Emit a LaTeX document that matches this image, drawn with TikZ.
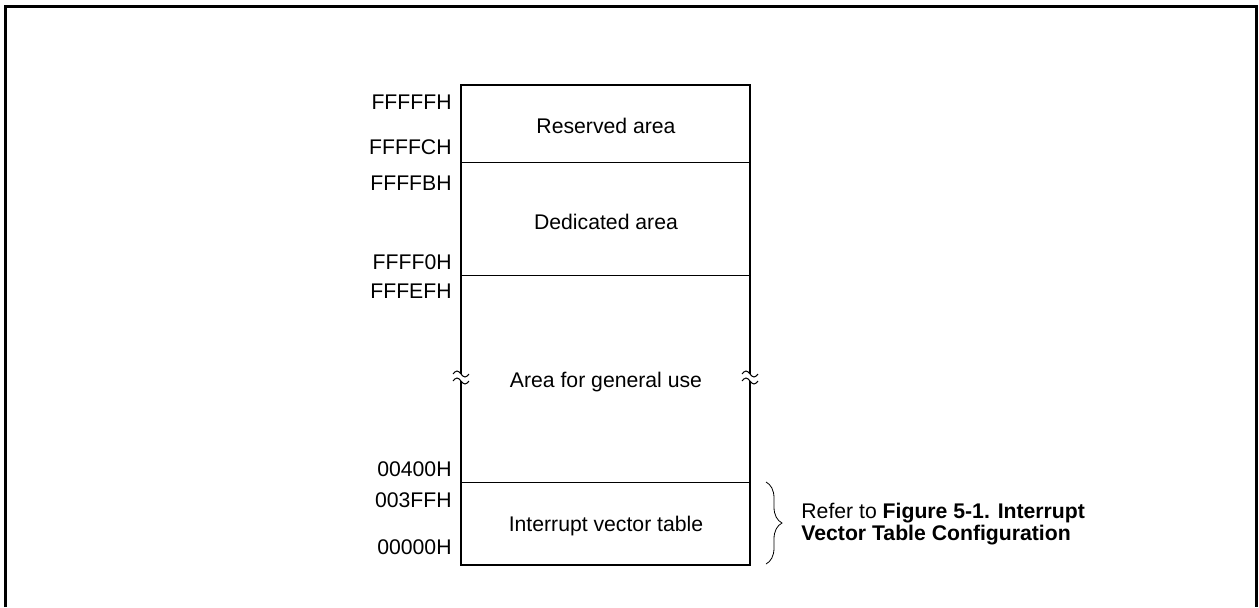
\documentclass[tikz,border=0pt]{standalone}
\usepackage{fontspec}
\setmainfont{Liberation Sans}
\usetikzlibrary{decorations.pathreplacing}
\tikzset{
      addrlabel/.style={
        anchor=base east,
        inner sep=0pt,
        font=\fontsize{10.6}{12}\selectfont
      },
      arealabel/.style={
        anchor=base,
        inner sep=0pt,
        font=\fontsize{10.6}{12}\selectfont
      },
      notelabel/.style={
        anchor=west,
        align=left,
        inner sep=0pt,
        font=\fontsize{10.6}{11.2}\selectfont
      },
      mapline/.style={line width=1pt},
      divline/.style={line width=0.5pt},
      breakmark/.style={line width=0.5pt}
    }

\begin{document}
\begin{tikzpicture}[x=0.5pt,y=-0.5pt]
    \useasboundingbox (0,0) rectangle (1259,607);
    \draw[line width=1.5pt] (5,607) -- (5,6) -- (1256,6) -- (1256,607);
    % memory map outline, broken at the general use area
    \coordinate (tl) at (461,85);
    \coordinate (tr) at (750,85);
    \coordinate (bl) at (461,565);
    \coordinate (br) at (750,565);
    \coordinate (bl1) at (461,374);
    \coordinate (bl2) at (461,381);
    \coordinate (br1) at (750,374);
    \coordinate (br2) at (750,381);
    \draw[mapline] (bl1) -- (tl) -- (tr) -- (br1);
    \draw[mapline] (bl2) -- (bl) -- (br) -- (br2);
    \foreach \bx in {461,750}
      \foreach \by in {374,381}
        \draw[breakmark] (\bx-8,\by) sin (\bx-4,\by-3) cos (\bx,\by) sin (\bx+4,\by+3) cos (\bx+8,\by);
    % dividers
    \coordinate (d1l) at (461,162);
    \coordinate (d1r) at (750,162);
    \coordinate (d2l) at (461,275);
    \coordinate (d2r) at (750,275);
    \coordinate (d3l) at (461,482);
    \coordinate (d3r) at (750,482);
    \draw[divline] (d1l) -- (d1r);
    \draw[divline] (d2l) -- (d2r);
    \draw[divline] (d3l) -- (d3r);
    % area names
    \node[arealabel] (reserved) at (606,133) {Reserved area};
    \node[arealabel] (dedicated) at (606,229) {Dedicated area};
    \node[arealabel] (general) at (606,387) {Area for general use};
    \node[arealabel] (vectors) at (606,531) {Interrupt vector table};
    % addresses
    \node[addrlabel] (a0) at (452,109) {FFFFFH};
    \node[addrlabel] (a1) at (452,154) {FFFFCH};
    \node[addrlabel] (a2) at (452,190) {FFFFBH};
    \node[addrlabel] (a3) at (452,269) {FFFF0H};
    \node[addrlabel] (a4) at (452,298) {FFFEFH};
    \node[addrlabel] (a5) at (452,476) {00400H};
    \node[addrlabel] (a6) at (452,507) {003FFH};
    \node[addrlabel] (a7) at (452,554) {00000H};
    % reference note
    \coordinate (bt) at (766,482);
    \coordinate (bb) at (766,564);
    \draw[line width=0.4pt, decorate, decoration={brace, amplitude=8pt}] (bt) -- (bb);
    \node[notelabel] (note) at (801,524) {Refer to \textbf{Figure 5-1. Interrupt}\\\textbf{Vector Table Configuration}};
    \end{tikzpicture}
\end{document}
